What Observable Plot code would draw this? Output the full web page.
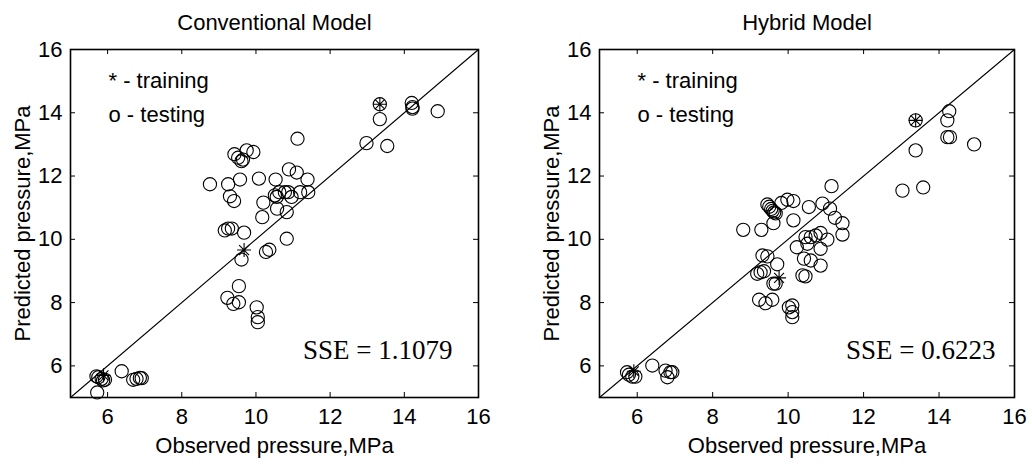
<!DOCTYPE html>
<html><head><meta charset="utf-8">
<script src="https://cdn.jsdelivr.net/npm/d3@7"></script>
<script src="https://cdn.jsdelivr.net/npm/@observablehq/plot@0.6"></script>
<style>
body{margin:0;background:#fff;}
#chart{display:flex;width:1032px;height:466px;}
#chart svg{display:block;}
</style></head><body><div id="chart"></div>
<script>
const ticks = [6, 8, 10, 12, 14, 16];
const diag = [5, 16];
const titles = ["Conventional Model", "Hybrid Model"];
const sseLabels = ["SSE = 1.1079", "SSE = 0.6223"];
const legendLines = ["* - training", "o - testing"];
const xLabel = "Observed pressure,MPa";
const yLabel = "Predicted pressure,MPa";

// Conventional model – testing points
const convObs  = [9.42, 9.52, 9.61, 9.65, 9.75, 9.93, 8.76, 9.25, 9.57, 10.08, 9.30, 9.41, 10.20, 10.17, 9.16, 9.25, 9.35, 9.68,
  13.34, 14.20, 14.22, 14.22, 14.90, 13.34, 11.12, 12.98, 13.54, 10.89, 11.10, 10.53, 11.39, 10.63, 10.78, 10.87, 11.19, 11.41,
  10.51, 10.56, 10.96, 10.57, 10.83, 10.83, 9.61, 10.27, 10.36, 9.54, 9.23, 9.39, 9.54, 10.02, 10.05, 10.05,
  6.38, 6.69, 6.78, 6.87, 6.92, 5.70, 5.75, 5.84, 5.88, 5.93, 5.72];
const convPred = [12.69, 12.58, 12.47, 12.52, 12.81, 12.76, 11.74, 11.74, 11.89, 11.92, 11.36, 11.21, 11.16, 10.70, 10.28, 10.34, 10.34, 10.21,
  14.27, 14.31, 14.18, 14.13, 14.05, 13.80, 13.18, 13.04, 12.95, 12.21, 12.11, 11.89, 11.89, 11.49, 11.49, 11.49, 11.49, 11.49,
  11.39, 11.34, 11.34, 10.97, 10.86, 10.02, 9.36, 9.60, 9.67, 8.52, 8.15, 7.96, 8.01, 7.85, 7.54, 7.38,
  5.83, 5.56, 5.59, 5.62, 5.61, 5.67, 5.64, 5.59, 5.54, 5.56, 5.16];
// Conventional model – training points
const convTrainObs  = [5.89, 9.68, 13.34];
const convTrainPred = [5.70, 9.66, 14.27];

// Hybrid model – testing points
const hybObs  = [8.81, 9.29, 9.61, 9.45, 9.50, 9.55, 9.59, 9.63, 9.67, 9.82, 9.98,
  13.38, 14.27, 14.22, 14.22, 14.29, 14.93, 13.38, 11.15, 13.03, 13.58,
  10.55, 10.91, 11.11, 11.24, 11.44, 11.44, 10.14, 10.14, 10.46, 10.60, 10.73, 10.86, 11.04,
  10.23, 10.51, 10.86, 10.42, 10.60, 10.86, 10.38, 10.46, 10.11, 10.11, 10.11,
  9.32, 9.45, 9.18, 9.27, 9.36, 9.71, 9.61, 9.67, 9.23, 9.40, 9.58, 10.02,
  5.73, 5.78, 5.87, 5.95, 6.40, 6.75, 6.88, 6.93, 6.80];
const hybPred = [10.30, 10.30, 10.51, 11.10, 11.03, 10.96, 10.90, 10.85, 10.82, 11.15, 11.25,
  13.76, 14.05, 13.76, 13.23, 13.23, 13.00, 12.81, 11.68, 11.54, 11.64,
  11.02, 11.13, 10.97, 10.68, 10.51, 10.15, 11.21, 10.60, 10.07, 10.07, 10.12, 10.20, 9.99,
  9.75, 9.86, 9.70, 9.39, 9.33, 9.17, 8.86, 8.83, 7.91, 7.70, 7.54,
  9.49, 9.46, 8.91, 8.96, 8.99, 9.21, 8.60, 8.60, 8.09, 7.98, 8.09, 7.85,
  5.80, 5.72, 5.66, 5.66, 6.01, 5.85, 5.80, 5.80, 5.64];
// Hybrid model – training points
const hybTrainObs  = [5.91, 9.76, 13.38];
const hybTrainPred = [5.83, 8.78, 13.76];

// MATLAB-style '*' marker (eight spokes)
const star = {
  draw(ctx, size) {
    const r = Math.sqrt(size / Math.PI), d = r * Math.SQRT1_2;
    ctx.moveTo(-r, 0); ctx.lineTo(r, 0);
    ctx.moveTo(0, -r); ctx.lineTo(0, r);
    ctx.moveTo(-d, -d); ctx.lineTo(d, d);
    ctx.moveTo(-d, d); ctx.lineTo(d, -d);
  }
};

const sans = "Arial, 'Liberation Sans', Helvetica, sans-serif";
const serif = "'Times New Roman', 'Liberation Serif', Times, serif";

function panel({title, obs, pred, tObs, tPred, sse, ml, mr, sseDx}) {
  const W = 516, H = 466, mt = 49, mb = 69, tk = 5;
  const fw = W - ml - mr, fh = H - mt - mb;
  const test = obs.map((x, i) => ({x, y: pred[i]}));
  const train = tObs.map((x, i) => ({x, y: tPred[i]}));
  const txt = {text: d => d, fontSize: 22, fill: "black", lineAnchor: "middle"};
  return Plot.plot({
    width: W, height: H,
    marginLeft: ml, marginRight: mr, marginTop: mt, marginBottom: mb,
    x: {domain: diag},
    y: {domain: diag},
    style: {fontFamily: sans, fontSize: "22px", background: "white", color: "black", overflow: "visible"},
    marks: [
      Plot.line(diag, {x: d => d, y: d => d, stroke: "black", strokeWidth: 1.1}),
      Plot.dot(test, {x: "x", y: "y", r: 6.6, stroke: "black", strokeWidth: 1.1, fill: "none"}),
      Plot.dot(train, {x: "x", y: "y", r: 7, symbol: star, stroke: "black", strokeWidth: 1.1, fill: "none"}),
      Plot.ruleX(ticks, {x: d => d, insetTop: fh - tk, stroke: "black", strokeWidth: 1}),
      Plot.ruleX(ticks, {x: d => d, insetBottom: fh - tk, stroke: "black", strokeWidth: 1}),
      Plot.ruleY(ticks, {y: d => d, insetRight: fw - tk, stroke: "black", strokeWidth: 1}),
      Plot.ruleY(ticks, {y: d => d, insetLeft: fw - tk, stroke: "black", strokeWidth: 1}),
      Plot.frame({stroke: "black", strokeWidth: 1.6}),
      Plot.axisX(ticks, {tickSize: 0, tickPadding: 11, label: null, fontSize: 22, fill: "black"}),
      Plot.axisY(ticks, {tickSize: 0, tickPadding: 8, label: null, fontSize: 22, fill: "black"}),
      Plot.text([xLabel], {...txt, frameAnchor: "bottom", textAnchor: "middle", dy: 48}),
      Plot.text([yLabel], {...txt, frameAnchor: "left", textAnchor: "middle", dx: -48, rotate: -90}),
      Plot.text([title], {...txt, frameAnchor: "top", textAnchor: "middle", dy: -27}),
      Plot.text([legendLines[0]], {...txt, frameAnchor: "top-left", textAnchor: "start", dx: 38, dy: 31}),
      Plot.text([legendLines[1]], {...txt, frameAnchor: "top-left", textAnchor: "start", dx: 38, dy: 65}),
      Plot.text([sse], {...txt, frameAnchor: "bottom-right", textAnchor: "end", dx: sseDx, dy: -47, fontSize: 27, fontFamily: serif})
    ]
  });
}

const chart = document.getElementById("chart");
chart.append(panel({title: titles[0], obs: convObs, pred: convPred, tObs: convTrainObs, tPred: convTrainPred, sse: sseLabels[0], ml: 70, mr: 38, sseDx: -26}));
chart.append(panel({title: titles[1], obs: hybObs, pred: hybPred, tObs: hybTrainObs, tPred: hybTrainPred, sse: sseLabels[1], ml: 83, mr: 18, sseDx: -19}));
</script></body></html>
